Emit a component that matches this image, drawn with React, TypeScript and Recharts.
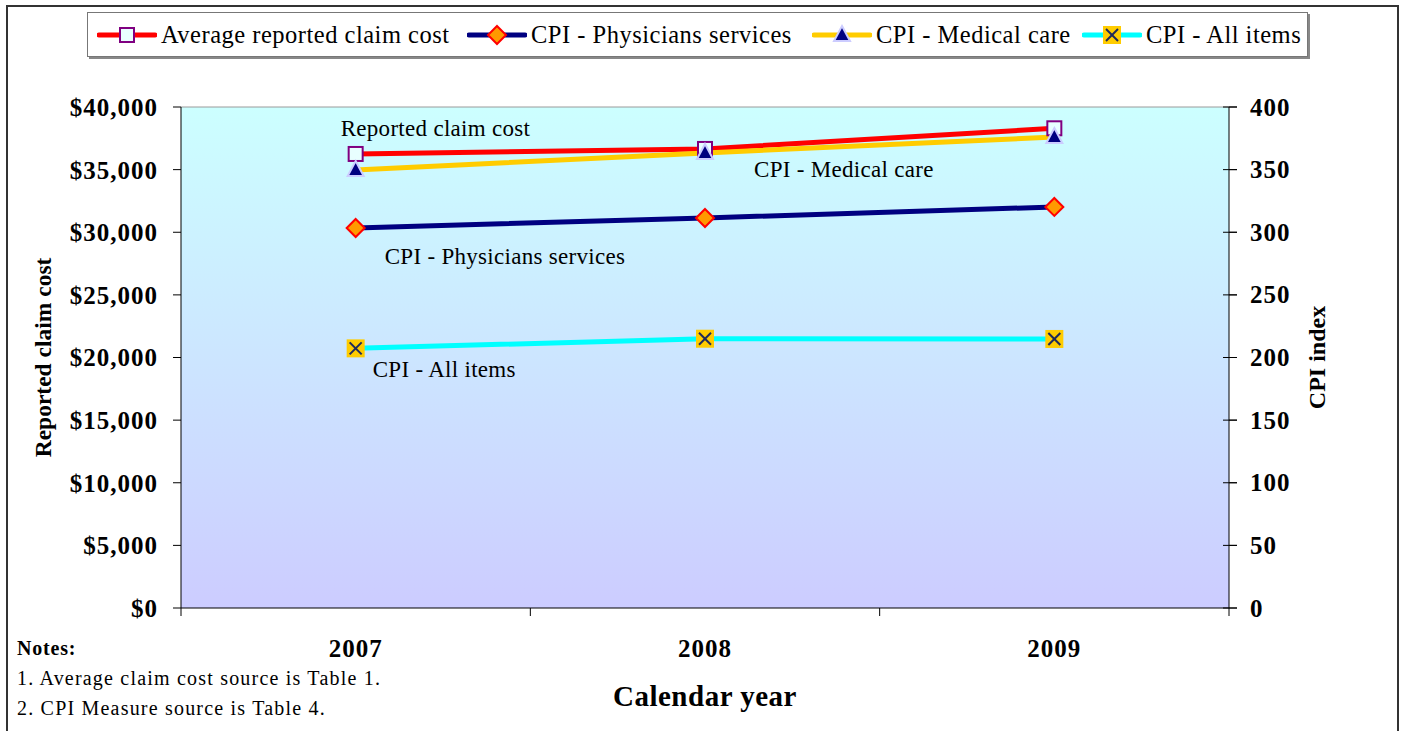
import React from 'react';
import { ComposedChart, Line, XAxis, YAxis, CartesianGrid, ReferenceLine, Label } from 'recharts';

const years = ['2007', '2008', '2009'];
const avgClaimCost = [36250, 36650, 38300];
const cpiPhysicians = [303.4, 311.4, 320.2];
const cpiMedical = [349.7, 363.3, 376.0];
const cpiAllItems = [207.3, 215.0, 214.8];

const costTicks = [0, 5000, 10000, 15000, 20000, 25000, 30000, 35000, 40000];
const cpiTicks = [0, 50, 100, 150, 200, 250, 300, 350, 400];

const data = years.map((year, i) => ({
  year,
  cost: avgClaimCost[i],
  physicians: cpiPhysicians[i],
  medical: cpiMedical[i],
  allItems: cpiAllItems[i],
}));

const PLOT_W = 1048;
const HALF_BAND = PLOT_W / years.length / 2;

const serif = '"Liberation Serif", "Times New Roman", serif';
const tickFont = { fontFamily: serif, fontWeight: 'bold' as const, fontSize: 25, letterSpacing: 1, fill: '#000' };

const fmtCost = (v: number) => '$' + v.toLocaleString('en-US');

// markers
const SquareDot = ({ cx, cy }: any) => (
  <rect x={cx - 7} y={cy - 7} width={14} height={14} fill="#E8FFFF" stroke="#800080" strokeWidth={2} />
);
const DiamondDot = ({ cx, cy }: any) => (
  <polygon points={`${cx},${cy - 9} ${cx + 9},${cy} ${cx},${cy + 9} ${cx - 9},${cy}`} fill="#FF9900" stroke="#FF0000" strokeWidth={2} />
);
const TriangleDot = ({ cx, cy }: any) => (
  <polygon points={`${cx},${cy - 9} ${cx + 8},${cy + 6} ${cx - 8},${cy + 6}`} fill="#000080" stroke="#CCCCFF" strokeWidth={2} />
);
const CrossDot = ({ cx, cy }: any) => (
  <g>
    <rect x={cx - 9} y={cy - 9} width={18} height={18} fill="#FFCC00" />
    <line x1={cx - 6} y1={cy - 6} x2={cx + 6} y2={cy + 6} stroke="#1F2A5A" strokeWidth={2} />
    <line x1={cx - 6} y1={cy + 6} x2={cx + 6} y2={cy - 6} stroke="#1F2A5A" strokeWidth={2} />
  </g>
);

// series name tag next to one point
const tag = (text: string, at: number, dx: number, dy: number) => (p: any) =>
  p.index === at ? (
    <text x={p.x + dx} y={p.y + dy} fontFamily={serif} fontSize={23} letterSpacing={0.3} fill="#000">{text}</text>
  ) : null;

const YearTick = ({ x, y, payload, index }: any) => (
  <g>
    <line x1={x - HALF_BAND} x2={x - HALF_BAND} y1={y} y2={y + 8} stroke="#000" />
    {index === years.length - 1 && <line x1={x + HALF_BAND} x2={x + HALF_BAND} y1={y} y2={y + 8} stroke="#000" />}
    <text x={x} y={y + 49} textAnchor="middle" style={tickFont}>{payload.value}</text>
  </g>
);

const CpiTick = ({ x, y, payload }: any) => (
  <g>
    <line x1={x - 27} x2={x - 13} y1={y} y2={y} stroke="#000" />
    <text x={x} y={y} dy="0.34em" textAnchor="start" style={tickFont}>{payload.value}</text>
  </g>
);

const LegendIcon = ({ color, children }: { color: string; children: React.ReactNode }) => (
  <svg width={60} height={24} style={{ display: 'block' }}>
    <line x1={2} x2={58} y1={12} y2={12} stroke={color} strokeWidth={5} strokeLinecap="round" />
    {children}
  </svg>
);

const legendItems = [
  { name: 'Average reported claim cost', color: '#FF0000', left: 9, dot: <SquareDot cx={30} cy={12} /> },
  { name: 'CPI - Physicians services', color: '#000080', left: 379, dot: <DiamondDot cx={30} cy={12} /> },
  { name: 'CPI - Medical care', color: '#FFCC00', left: 724, dot: <TriangleDot cx={30} cy={12} /> },
  { name: 'CPI - All items', color: '#00FFFF', left: 994, dot: <CrossDot cx={30} cy={12} /> },
];

const axisTitle = (text: string, dx: number, size: number) => ({ viewBox }: any) => {
  const x = viewBox.x + dx;
  const y = viewBox.y + viewBox.height / 2;
  return (
    <text x={x} y={y} transform={`rotate(-90 ${x} ${y})`} textAnchor="middle" dy="0.35em" fontFamily={serif} fontWeight="bold" fontSize={size} fill="#000">
      {text}
    </text>
  );
};

export default function App() {
  return (
    <div style={{ position: 'absolute', left: 0, top: 0, width: 1404, height: 731, background: '#fff', overflow: 'hidden', fontFamily: serif }}>
      <div style={{ position: 'absolute', left: 6, top: 5, width: 1389, height: 740, border: '2px solid #333' }} />
      <ComposedChart
        width={1404}
        height={731}
        data={data}
        margin={{ top: 107, right: 75, bottom: 63, left: 81 }}
        style={{ position: 'absolute', left: 0, top: 0 }}
      >
        <defs>
          <linearGradient id="plotBg" x1="0" y1="0" x2="0" y2="1">
            <stop offset="0%" stopColor="#CCFFFF" />
            <stop offset="100%" stopColor="#CCCCFF" />
          </linearGradient>
        </defs>
        <CartesianGrid horizontal={false} vertical={false} fill="url(#plotBg)" fillOpacity={1} yAxisId="cost" />
        <XAxis
          dataKey="year"
          scale="band"
          interval={0}
          height={60}
          tickSize={0}
          tickMargin={0}
          tickLine={false}
          axisLine={{ stroke: '#000' }}
          tick={<YearTick />}
        >
          <Label
            content={({ viewBox }: any) => (
              <text x={viewBox.x + viewBox.width / 2} y={viewBox.y + 98} textAnchor="middle" fontFamily={serif} fontWeight="bold" fontSize={29} letterSpacing={0.5} fill="#000">
                Calendar year
              </text>
            )}
          />
        </XAxis>
        <YAxis
          yAxisId="cost"
          orientation="left"
          width={100}
          domain={[0, 40000]}
          ticks={costTicks}
          interval={0}
          tickFormatter={fmtCost}
          tick={tickFont}
          tickSize={8}
          tickMargin={15}
          axisLine={{ stroke: '#000' }}
          tickLine={{ stroke: '#000' }}
        >
          <Label content={axisTitle('Reported claim cost', -38, 23.5)} />
        </YAxis>
        <YAxis
          yAxisId="cpi"
          orientation="right"
          width={100}
          domain={[0, 400]}
          ticks={cpiTicks}
          interval={0}
          tick={<CpiTick />}
          tickSize={8}
          tickMargin={13}
          axisLine={{ stroke: '#000' }}
          tickLine={{ stroke: '#000' }}
        >
          <Label content={axisTitle('CPI index', 88, 24)} />
        </YAxis>
        <ReferenceLine yAxisId="cost" y={40000} stroke="#9A9A9A" />
        <Line yAxisId="cpi" dataKey="allItems" stroke="#00FFFF" strokeWidth={5} dot={<CrossDot />} activeDot={false} isAnimationActive={false} label={tag('CPI - All items', 0, 17, 29)} />
        <Line yAxisId="cpi" dataKey="physicians" stroke="#000080" strokeWidth={5} dot={<DiamondDot />} activeDot={false} isAnimationActive={false} label={tag('CPI - Physicians services', 0, 29, 36)} />
        <Line yAxisId="cost" dataKey="cost" stroke="#FF0000" strokeWidth={5} dot={<SquareDot />} activeDot={false} isAnimationActive={false} label={tag('Reported claim cost', 0, -15, -18)} />
        <Line yAxisId="cpi" dataKey="medical" stroke="#FFCC00" strokeWidth={5} dot={<TriangleDot />} activeDot={false} isAnimationActive={false} label={tag('CPI - Medical care', 1, 49, 24)} />
      </ComposedChart>

      <div
        style={{
          position: 'absolute', left: 87, top: 12, width: 1221, height: 45,
          border: '1px solid #777', boxShadow: '2px 2px 0 #888', background: '#fff', boxSizing: 'border-box',
        }}
      >
        {legendItems.map((it) => (
          <div key={it.name} style={{ position: 'absolute', left: it.left, top: 0, height: 43, display: 'flex', alignItems: 'center' }}>
            <LegendIcon color={it.color}>{it.dot}</LegendIcon>
            <span style={{ fontSize: 24.5, letterSpacing: 0.5, marginLeft: 4, whiteSpace: 'nowrap', lineHeight: '30px' }}>{it.name}</span>
          </div>
        ))}
      </div>

      <div style={{ position: 'absolute', left: 17, top: 633, fontSize: 20, lineHeight: '30px', color: '#000' }}>
        <div style={{ fontWeight: 'bold', letterSpacing: 0.8 }}>Notes:</div>
        <div style={{ letterSpacing: 1.2 }}>1. Average claim cost source is Table 1.</div>
        <div style={{ letterSpacing: 1.2 }}>2. CPI Measure source is Table 4.</div>
      </div>
    </div>
  );
}
